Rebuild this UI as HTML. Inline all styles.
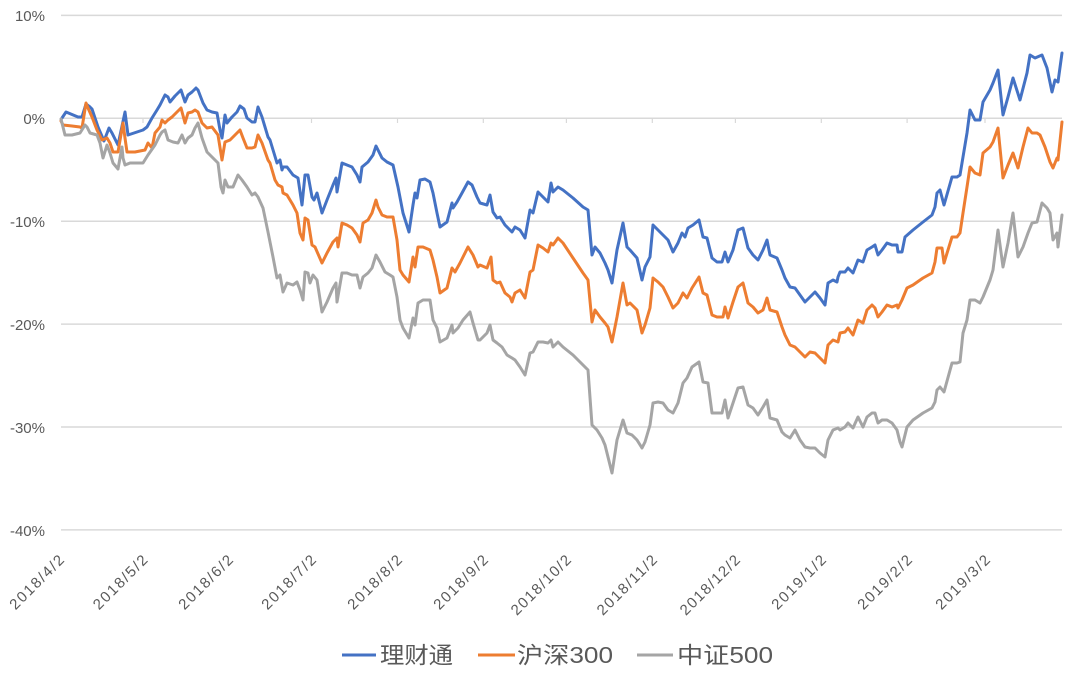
<!DOCTYPE html>
<html>
<head>
<meta charset="utf-8">
<style>
html,body{margin:0;padding:0;background:#fff;}
svg{display:block;}
text{font-family:"Liberation Sans","Noto Sans CJK SC",sans-serif;fill:#595959;}
</style>
</head>
<body>
<svg width="1080" height="674" viewBox="0 0 1080 674" xmlns="http://www.w3.org/2000/svg">
<rect width="1080" height="674" fill="#fff"/>
<g stroke="#d9d9d9" stroke-width="1.5">
<line x1="61" y1="15.4" x2="1062" y2="15.4"/>
<line x1="61" y1="118.3" x2="1062" y2="118.3"/>
<line x1="61" y1="221.2" x2="1062" y2="221.2"/>
<line x1="61" y1="324.1" x2="1062" y2="324.1"/>
<line x1="61" y1="427" x2="1062" y2="427"/>
<line x1="61" y1="529.9" x2="1062" y2="529.9"/>
</g>
<g stroke="#d9d9d9" stroke-width="1.2">
<line x1="143" y1="118" x2="143" y2="123"/>
<line x1="228.5" y1="118" x2="228.5" y2="123"/>
<line x1="311.5" y1="118" x2="311.5" y2="123"/>
<line x1="397.5" y1="118" x2="397.5" y2="123"/>
<line x1="483.3" y1="118" x2="483.3" y2="123"/>
<line x1="566.4" y1="118" x2="566.4" y2="123"/>
<line x1="652.3" y1="118" x2="652.3" y2="123"/>
<line x1="735.4" y1="118" x2="735.4" y2="123"/>
<line x1="821.3" y1="118" x2="821.3" y2="123"/>
<line x1="907.1" y1="118" x2="907.1" y2="123"/>
<line x1="985" y1="118" x2="985" y2="123"/>
</g>
<g font-size="15" text-anchor="end">
<text x="45" y="21">10%</text>
<text x="45" y="124">0%</text>
<text x="45" y="227">-10%</text>
<text x="45" y="330">-20%</text>
<text x="45" y="433">-30%</text>
<text x="45" y="536">-40%</text>
</g>
<g font-size="15" text-anchor="end">
<text transform="translate(65,561) rotate(-45)" textLength="70" lengthAdjust="spacing">2018/4/2</text>
<text transform="translate(148.5,561) rotate(-45)" textLength="70" lengthAdjust="spacing">2018/5/2</text>
<text transform="translate(234,561) rotate(-45)" textLength="70" lengthAdjust="spacing">2018/6/2</text>
<text transform="translate(317,561) rotate(-45)" textLength="70" lengthAdjust="spacing">2018/7/2</text>
<text transform="translate(403,561) rotate(-45)" textLength="70" lengthAdjust="spacing">2018/8/2</text>
<text transform="translate(489,561) rotate(-45)" textLength="70" lengthAdjust="spacing">2018/9/2</text>
<text transform="translate(572,561) rotate(-45)" textLength="78" lengthAdjust="spacing">2018/10/2</text>
<text transform="translate(658,561) rotate(-45)" textLength="78" lengthAdjust="spacing">2018/11/2</text>
<text transform="translate(741,561) rotate(-45)" textLength="78" lengthAdjust="spacing">2018/12/2</text>
<text transform="translate(827,561) rotate(-45)" textLength="70" lengthAdjust="spacing">2019/1/2</text>
<text transform="translate(913,561) rotate(-45)" textLength="70" lengthAdjust="spacing">2019/2/2</text>
<text transform="translate(991,561) rotate(-45)" textLength="70" lengthAdjust="spacing">2019/3/2</text>
</g>
<g fill="none" stroke-width="3" stroke-linejoin="round" stroke-linecap="round">
<polyline stroke="#4472C4" points="62,118 66,112 78,117 82,117 86,104 90,107 92,109 98,127 104,141 109,128 112,133 118,145 125,112 128,135 134,133 143,130 147,127 152,118 157,110 160,105 165,95 168,97 170,102 175,96 181,90 185,102 188,95 192,92 196,88 198,90 203,103 207,110 212,112 217,113 220,130 222,138 225,115 227,123 232,117 237,112 240,106 244,109 247,118 252,122 255,122 258,107 262,117 268,137 270,140 277,163 280,160 282,170 283,167 287,167 293,175 298,178 302,205 305,175 308,175 312,197 314,200 317,193 322,213 327,200 333,185 336,178 337,192 342,163 347,165 352,167 357,175 360,182 362,167 368,162 373,155 376,146 378,150 382,158 387,162 393,165 398,187 403,213 409,232 413,205 415,193 417,198 420,180 425,179 430,182 433,193 437,213 440,227 447,222 452,203 453,208 457,202 462,193 468,182 472,185 477,197 480,203 487,205 490,195 493,212 497,218 500,217 505,225 508,228 512,232 515,227 520,230 525,238 530,210 533,213 538,192 543,197 548,202 551,183 553,192 558,187 563,190 573,198 583,207 588,210 592,255 595,247 600,253 605,263 608,270 612,283 617,250 623,223 627,247 630,250 637,258 642,280 645,267 650,257 653,225 658,230 663,235 668,240 673,252 678,243 682,233 685,237 688,228 693,225 699,220 703,237 707,238 712,258 717,262 722,262 725,252 728,262 733,250 738,230 743,228 748,248 753,255 758,260 763,250 767,240 770,255 777,258 782,270 785,278 790,287 795,288 800,295 805,302 810,297 815,292 820,298 825,305 828,283 833,280 837,282 838,277 840,272 845,272 848,268 853,273 858,260 863,262 867,250 872,247 875,245 878,255 882,250 887,243 892,245 897,245 898,252 902,252 905,237 913,230 923,222 932,215 935,207 937,193 940,190 944,205 952,177 957,177 960,175 963,157 967,133 970,110 975,120 980,120 983,102 990,90 993,83 998,70 1003,115 1008,97 1013,78 1020,100 1027,73 1030,55 1035,58 1042,55 1047,68 1052,92 1055,80 1058,82 1062,53"/>
<polyline stroke="#ED7D31" points="61,121 63,125 72,126 80,127 82,128 86,103 88,108 92,117 97,130 102,140 107,138 110,143 113,152 118,152 123,123 125,138 127,152 135,152 145,150 148,143 152,148 155,133 160,127 162,120 165,123 168,120 172,117 177,112 181,108 185,123 188,113 192,112 195,110 198,112 202,123 207,128 212,127 218,135 222,160 225,142 230,140 235,135 240,130 243,138 247,148 252,148 255,147 258,135 262,143 268,160 270,163 275,180 278,185 282,187 283,193 287,195 293,205 297,213 300,233 303,240 305,218 308,220 312,245 315,247 322,263 327,253 333,242 337,238 338,247 342,223 347,225 352,228 357,235 360,242 363,223 368,220 372,213 376,200 378,207 382,215 387,217 393,217 397,240 400,270 403,275 409,282 413,257 415,267 418,247 423,247 430,250 433,260 437,277 440,293 447,288 452,268 455,272 460,263 463,257 468,247 473,255 478,267 480,265 487,268 491,257 493,280 497,283 500,282 505,293 510,297 512,302 515,293 520,290 525,298 530,272 533,270 538,245 543,248 548,252 551,243 553,245 558,238 563,243 573,258 583,273 588,280 592,322 595,310 600,317 605,323 608,327 612,342 617,317 623,283 627,305 630,303 637,310 642,333 645,325 650,308 653,278 658,282 663,287 668,297 673,308 678,303 683,293 687,298 692,288 699,277 703,293 707,295 712,315 717,317 723,317 725,307 728,318 733,302 738,287 743,283 748,303 753,307 758,313 763,310 767,298 770,310 777,312 782,327 785,335 790,345 795,347 800,352 805,357 810,352 815,353 820,358 825,363 828,345 833,340 838,342 840,333 845,332 848,328 853,335 858,320 863,323 867,310 872,305 875,308 878,317 882,312 887,305 892,307 897,305 898,308 902,300 907,288 913,285 923,278 932,273 935,262 937,248 942,248 944,263 952,237 957,237 960,233 963,213 967,187 970,167 975,173 980,175 983,153 990,147 993,142 998,128 1003,178 1008,165 1013,153 1018,168 1023,147 1028,128 1032,133 1037,133 1040,135 1045,147 1050,162 1053,168 1057,158 1058,160 1062,122"/>
<polyline stroke="#A5A5A5" points="61,119 65,135 72,135 80,133 85,125 87,127 90,133 97,135 100,143 103,158 107,145 110,153 113,163 118,169 122,147 123,158 125,165 130,163 137,163 143,163 148,155 155,145 160,135 162,132 165,130 168,140 173,142 178,143 182,135 185,143 188,138 192,135 195,128 198,123 202,138 207,152 212,157 218,163 221,187 223,193 225,180 228,187 233,187 238,175 242,180 247,187 252,195 255,193 258,197 263,208 268,232 273,257 277,278 280,275 283,292 287,283 293,285 297,282 300,290 303,300 305,272 308,273 310,283 313,275 317,280 322,312 327,302 333,288 336,283 337,302 342,273 347,273 352,275 357,275 360,288 363,277 368,273 372,268 376,255 380,262 385,272 390,275 393,277 397,297 400,320 403,328 409,338 413,318 415,325 418,303 423,300 430,300 433,320 437,328 440,342 447,338 452,325 453,333 458,328 463,320 470,312 473,323 478,340 480,340 487,333 490,325 493,340 497,343 502,347 507,355 512,358 515,360 520,367 525,375 530,353 533,352 538,342 543,342 548,343 551,340 553,347 558,342 563,347 573,355 583,365 588,370 592,425 597,430 602,438 605,445 608,457 612,473 617,440 623,420 627,433 632,435 637,440 642,448 645,442 650,425 653,403 658,402 663,403 668,410 673,413 678,403 683,383 687,378 692,367 699,362 703,382 708,383 712,413 717,413 722,413 725,400 728,418 733,403 738,388 743,387 748,405 753,408 758,415 763,407 767,400 770,418 777,420 782,432 785,435 790,438 795,430 800,440 805,447 810,448 815,448 820,453 825,457 828,440 833,430 838,428 840,430 845,427 848,423 853,428 858,417 863,427 867,417 872,413 875,413 878,423 882,420 887,420 892,423 897,430 900,442 902,447 907,427 913,420 923,413 932,408 935,402 937,390 940,387 944,392 952,363 957,363 960,362 963,333 967,320 970,300 975,300 980,303 983,297 990,280 993,270 998,230 1003,267 1008,243 1013,213 1018,257 1023,247 1028,233 1032,223 1037,222 1042,203 1047,208 1050,213 1053,240 1057,233 1058,247 1062,215"/>
</g>
<g stroke-width="3">
<line x1="342" y1="655" x2="376" y2="655" stroke="#4472C4"/>
<line x1="478" y1="655" x2="515" y2="655" stroke="#ED7D31"/>
<line x1="637" y1="655" x2="673" y2="655" stroke="#A5A5A5"/>
</g>
<g font-size="23">
<text x="380" y="663" textLength="73" lengthAdjust="spacingAndGlyphs">理财通</text>
<text x="517" y="663" textLength="96" lengthAdjust="spacingAndGlyphs">沪深300</text>
<text x="677" y="663" textLength="96" lengthAdjust="spacingAndGlyphs">中证500</text>
</g>
</svg>
</body>
</html>
